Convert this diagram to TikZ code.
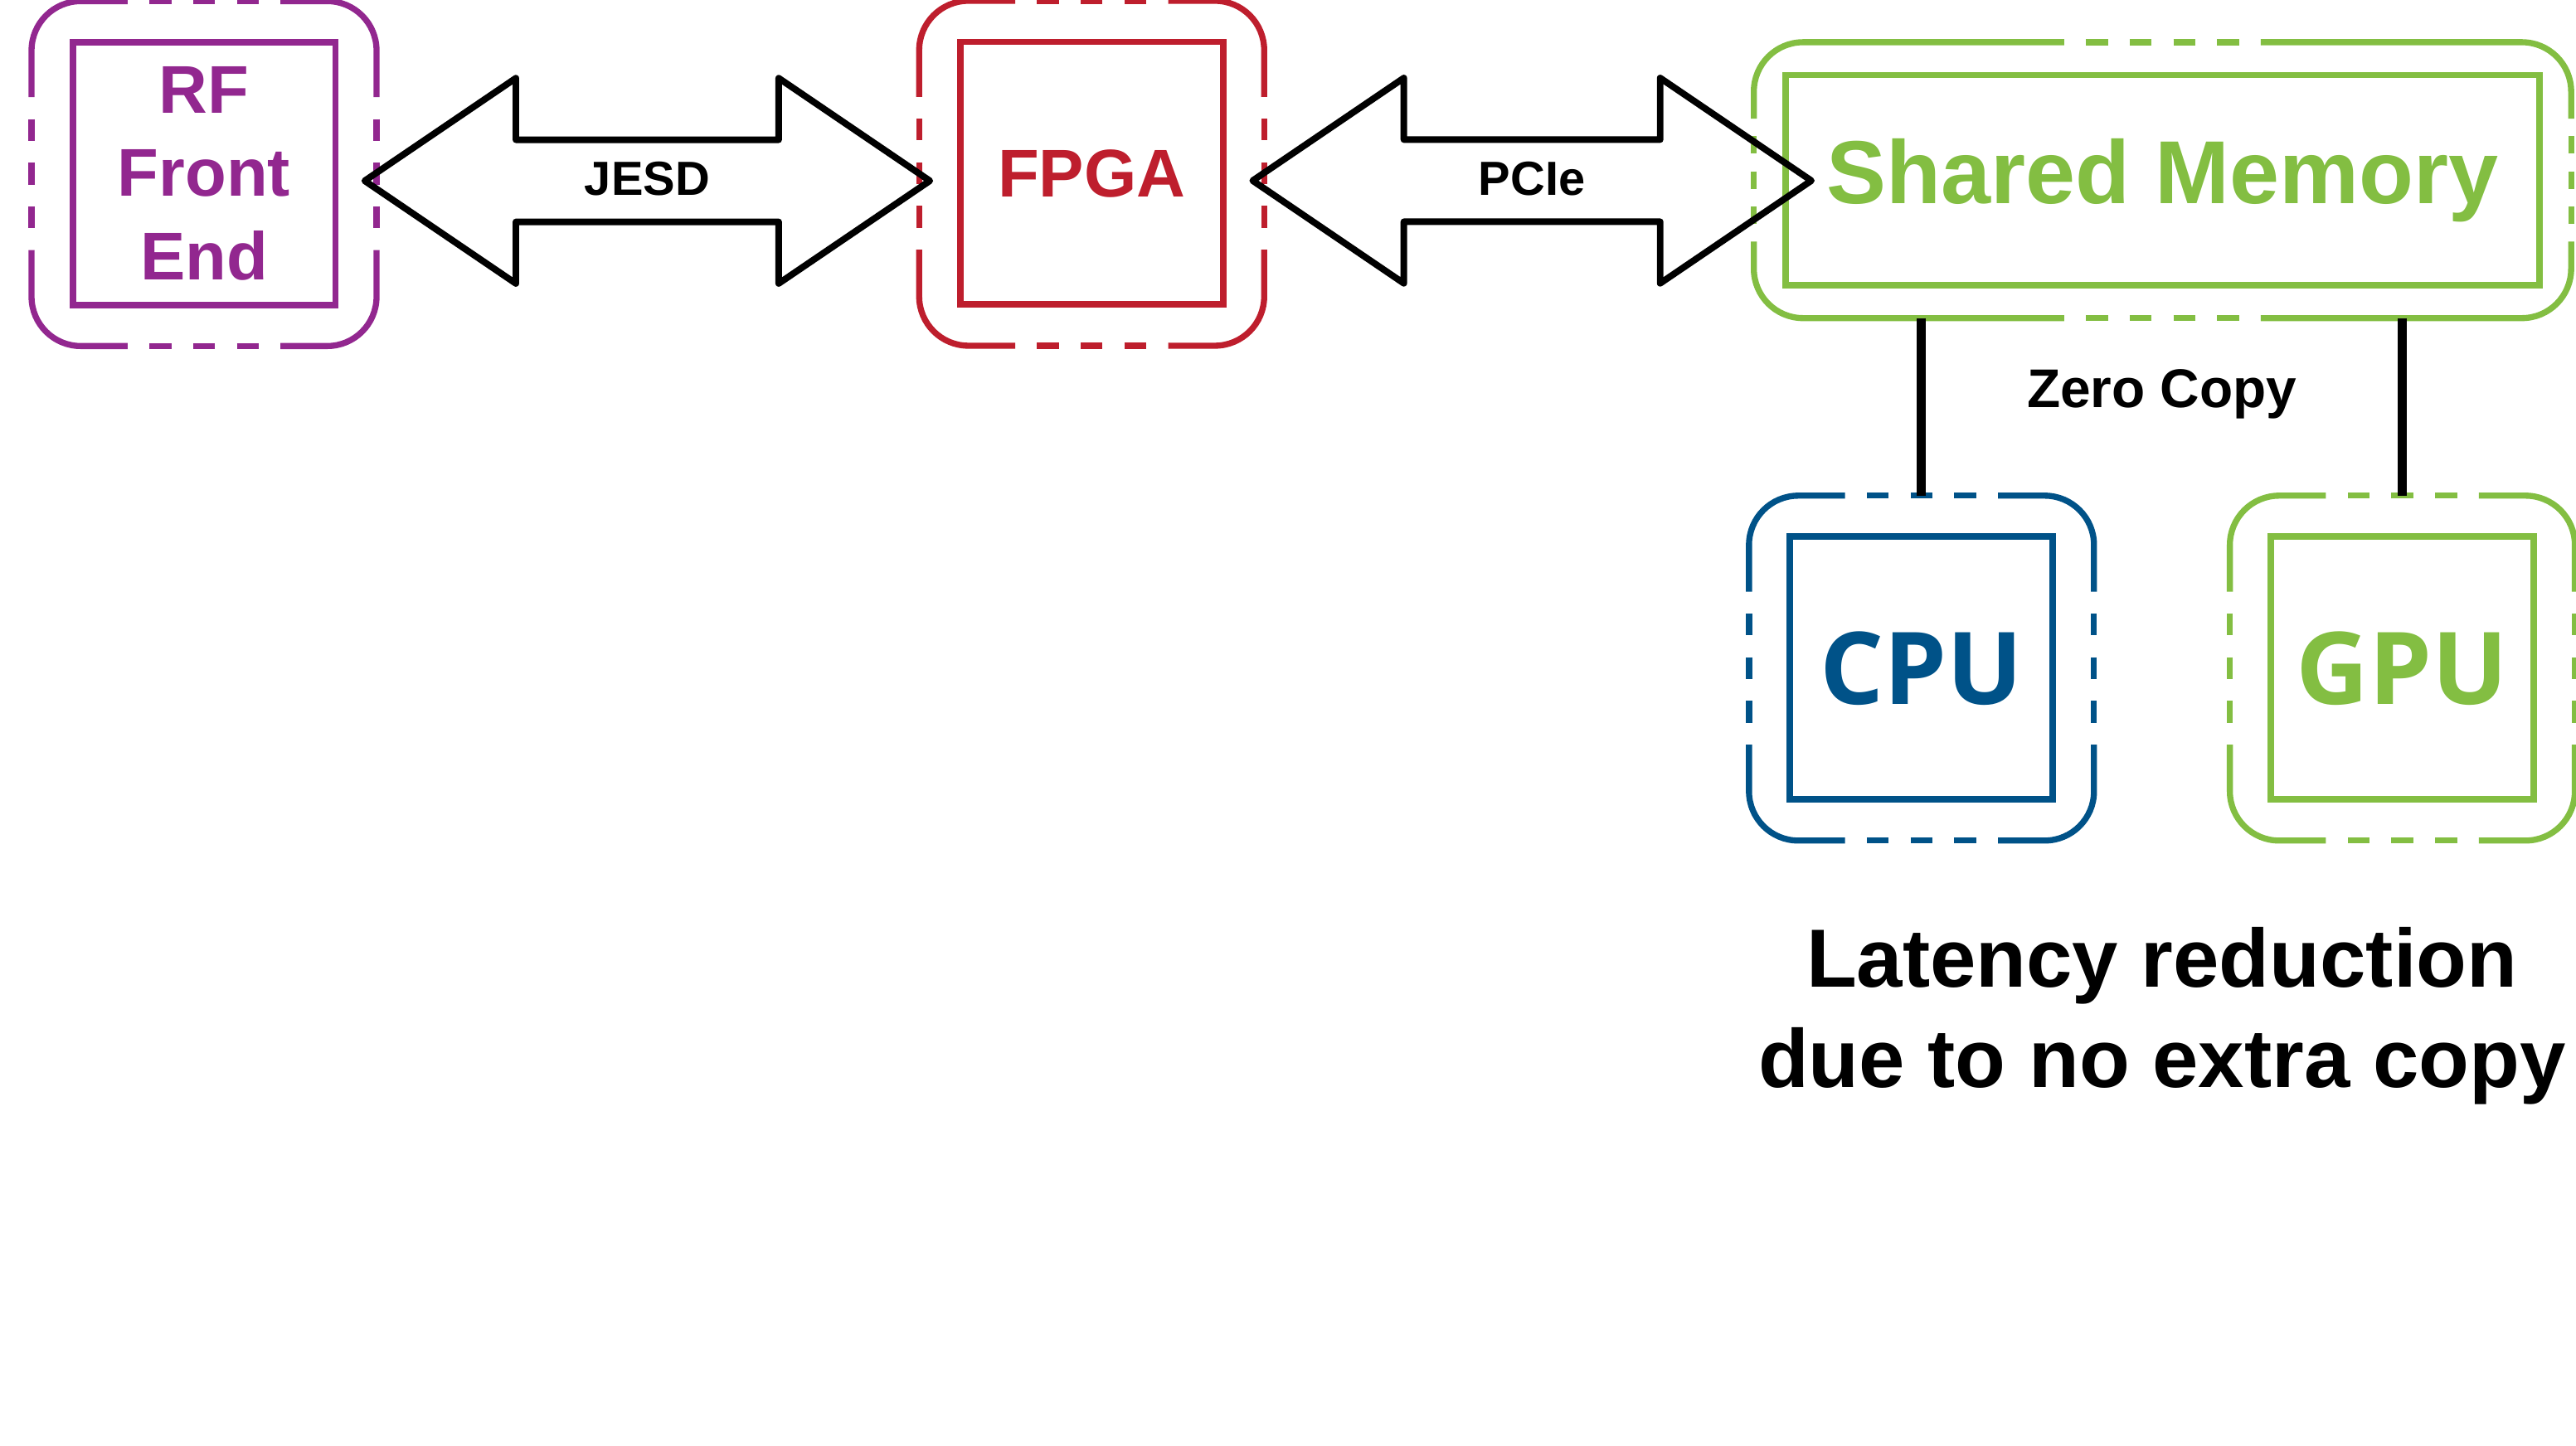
\documentclass[tikz,border=0pt]{standalone}
\usepackage{fontspec}
\setmainfont{Liberation Sans}
\newfontfamily\chipfont{Open Sans}
\usetikzlibrary{calc}

\definecolor{rfpurple}{RGB}{146,39,143}
\definecolor{fpgared}{RGB}{190,30,45}
\definecolor{memgreen}{RGB}{131,190,66}
\definecolor{cpublue}{RGB}{0,82,136}

\begin{document}
\begin{tikzpicture}[x=0.1mm,y=-0.1mm]
  \tikzstyle{shell} = [rectangle,inner sep=0pt,outer sep=0pt,minimum width=21mm,minimum height=21mm]
  \tikzstyle{core} = [draw,rectangle,line width=0.4mm,inner sep=0pt,outer sep=0pt,minimum width=16mm,minimum height=16mm,align=center,font=\bfseries\fontsize{11.7}{14.4}\selectfont]
  \tikzstyle{chip} = [core,font=\chipfont\bfseries\fontsize{17.4}{21}\selectfont]
  \tikzstyle{fat} = [draw,line width=0.4mm,line join=round]
  \tikzstyle{wire} = [draw,line width=0.56mm]
  \tikzstyle{tag} = [inner sep=0pt,font=\bfseries\fontsize{8.3}{10}\selectfont]
  \useasboundingbox (0,0) rectangle (1568,880);

  \node (rff)[shell] at (124.2,105.7) {};
  \node (rf)[core,rfpurple] at (rff) {RF\\Front\\End};
  \node (fpf)[shell] at (664.5,105.5) {};
  \node (fp)[core,fpgared] at (fpf) {FPGA};
  \node (smf)[shell,minimum width=49.75mm,minimum height=16.8mm] at (1316.3,109.7) {};
  \node (sm)[core,memgreen,minimum width=45.9mm,minimum height=12.8mm,font=\bfseries\fontsize{15.5}{18}\selectfont] at (smf) {Shared Memory};
  \node (cpuf)[shell] at (1169.6,406.8) {};
  \node (cpu)[chip,cpublue] at (cpuf) {CPU};
  \node (gpuf)[shell] at (1462.3,406.8) {};
  \node (gpu)[chip,memgreen] at (gpuf) {GPU};

  % outer frames: solid corners, dashed middle of each side
  \foreach \f/\c/\na/\ua/\nd/\ud in {rff/rfpurple/3/1.33mm/3/1.33mm, fpf/fpgared/3/1.33mm/3/1.33mm,
      smf/memgreen/4/1.33mm/3/1.07mm, cpuf/cpublue/3/1.33mm/3/1.33mm, gpuf/memgreen/3/1.33mm/3/1.33mm}{
    \begin{scope}[draw=\c,line width=0.37mm]
      \draw[rounded corners=3mm] ($(\f.north)+({-(\na+0.5)*\ua},0)$) -| ($(\f.west)+(0,{(\nd+0.5)*\ud})$);
      \draw[rounded corners=3mm] ($(\f.north)+({(\na+0.5)*\ua},0)$) -| ($(\f.east)+(0,{(\nd+0.5)*\ud})$);
      \draw[rounded corners=3mm] ($(\f.south)+({-(\na+0.5)*\ua},0)$) -| ($(\f.west)+(0,{-(\nd+0.5)*\ud})$);
      \draw[rounded corners=3mm] ($(\f.south)+({(\na+0.5)*\ua},0)$) -| ($(\f.east)+(0,{-(\nd+0.5)*\ud})$);
      \begin{scope}
        \pgfsetdash{{\ua}{\ua}}{\ua}
        \draw ($(\f.north)+({-(\na+0.5)*\ua},0)$) -- ($(\f.north)+({(\na+0.5)*\ua},0)$);
        \draw ($(\f.south)+({-(\na+0.5)*\ua},0)$) -- ($(\f.south)+({(\na+0.5)*\ua},0)$);
      \end{scope}
      \begin{scope}
        \pgfsetdash{{\ud}{\ud}}{\ud}
        \draw ($(\f.west)+(0,{(\nd+0.5)*\ud})$) -- ($(\f.west)+(0,{-(\nd+0.5)*\ud})$);
        \draw ($(\f.east)+(0,{(\nd+0.5)*\ud})$) -- ($(\f.east)+(0,{-(\nd+0.5)*\ud})$);
      \end{scope}
    \end{scope}
  }

  \foreach \a/\ax/\ay/\b/\bx/\t in {rff/-7.2/4.4/fpf/6.5/JESD, fpf/-7/4.5/smf/35/PCIe}{
    \path ($(\a.east)+(\ax,\ay)$) coordinate (tl) ($(\b.west)+(\bx,0)$) coordinate (tx) (tl -| tx) coordinate (tr);
    \draw[fat] (tl) -- ++(92,-62.5) -- ++(0,37.5) -- ($(tr)+(-92,-25)$) -- ++(0,-37.5) -- (tr)
      -- ++(-92,62.5) -- ++(0,-37.5) -- ($(tl)+(92,25)$) -- ++(0,37.5) -- cycle;
    \node (\t)[tag,anchor=base] at ($(tl)!.5!(tr)+(0,9)$) {\t};
  }

  \draw[wire] (smf.south -| cpuf.north) -- (cpuf.north);
  \draw[wire] (smf.south -| gpuf.north) -- (gpuf.north);
  \node (zc)[tag,anchor=base,font=\bfseries\fontsize{9.45}{11}\selectfont] at (1316,248) {Zero Copy};
  \node (lat)[anchor=north,inner sep=0pt,align=center,font=\bfseries\fontsize{14.3}{17.36}\selectfont] at (1316,563.7) {Latency reduction\\due to no extra copy};
\end{tikzpicture}
\end{document}
